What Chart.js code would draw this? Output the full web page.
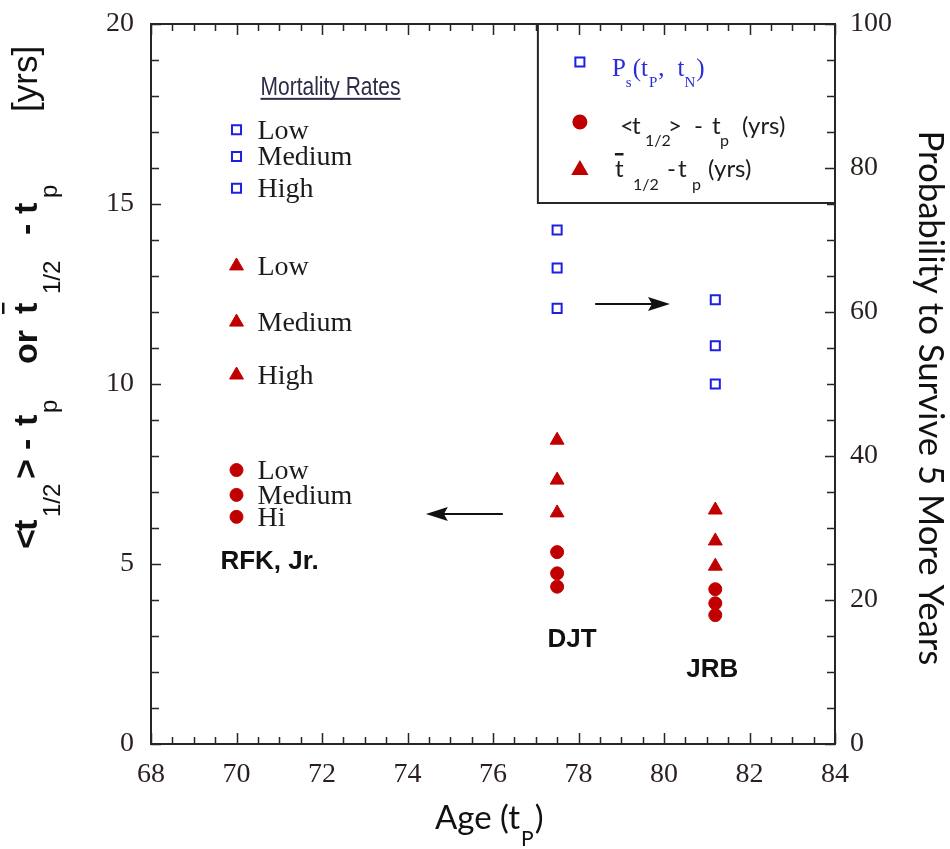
<!DOCTYPE html>
<html>
<head>
<meta charset="utf-8">
<script src="https://cdn.jsdelivr.net/npm/chart.js@4.4.1/dist/chart.umd.min.js"></script>
<style>
  html, body { margin: 0; padding: 0; background: #fff; }
  #wrap { width: 950px; height: 849px; }
</style>
</head>
<body>
<div id="wrap"><canvas id="chart" width="950" height="849"></canvas></div>
<script>
// ages (t_p)
const keyAge = 70;
const people = ["DJT", "JRB"];
const peopleAge = [77.5, 81.2];
const rateNames = ["Low", "Medium", "High"];
const dotNames = ["Low", "Medium", "Hi"];

// probability to survive 5 more years (right axis, %)
const keyPs = [85.3, 81.6, 77.2];
const djtPs = [71.4, 66.1, 60.5];
const jrbPs = [61.7, 55.3, 50.0];

// <t1/2> - tp in years (circles)
const keyMean = [7.61, 6.92, 6.31];
const djtMean = [5.33, 4.74, 4.37];
const jrbMean = [4.30, 3.91, 3.58];

// t1/2 bar - tp in years (triangles)
const keyBar = [13.28, 11.72, 10.25];
const djtBar = [8.44, 7.33, 6.42];
const jrbBar = [6.50, 5.64, 4.94];

// axis ticks
const xTicks = [68, 70, 72, 74, 76, 78, 80, 82, 84];
const yTicks = [0, 5, 10, 15, 20];
const y2Ticks = [0, 20, 40, 60, 80, 100];

const BLUE = "#1f1fe0";
const RED = "#c00000";
const INK = "#1c1c1c";
const TICKCOL = "#2b1f1f";

const pts = (x, ys) => ys.map(v => ({ x: x, y: v }));

const sq = { pointStyle: "rect", pointRadius: 6.4, borderColor: BLUE, backgroundColor: "#fff", borderWidth: 2 };
const dot = { pointStyle: "circle", pointRadius: 6.5, borderColor: RED, backgroundColor: RED, borderWidth: 1 };
const tri = { pointStyle: "triangle", pointRadius: 8, borderColor: RED, backgroundColor: RED, borderWidth: 1 };

// draws text pieces; "at" places a piece at a fixed offset, otherwise it follows the previous one
function pieces(ctx, x, y, parts) {
  let cx = x;
  parts.forEach(p => {
    ctx.font = p.f;
    const px = p.at !== undefined ? x + p.at : cx + (p.gap || 0);
    const w = ctx.measureText(p.t).width;
    ctx.fillText(p.t, px, y + (p.dy || 0));
    if (p.bar) ctx.fillRect(px, y + p.bar, w, 2.5);
    cx = px + w;
  });
}

const decor = {
  id: "decor",
  afterDatasetsDraw(chart) {
    const { ctx, chartArea: a } = chart;
    const { x, y, y2 } = chart.scales;
    ctx.save();

    // frame + inward ticks
    ctx.strokeStyle = "#262626";
    ctx.lineWidth = 2;
    ctx.strokeRect(a.left, a.top, a.right - a.left, a.bottom - a.top);
    ctx.lineWidth = 1.5;
    ctx.beginPath();
    for (let v = xTicks[0]; v <= xTicks[xTicks.length - 1] + 0.01; v += 0.5) {
      const px = Math.round(x.getPixelForValue(v)) + 0.5;
      const len = v % 2 === 0 ? 11 : 7;
      ctx.moveTo(px, a.bottom); ctx.lineTo(px, a.bottom - len);
      ctx.moveTo(px, a.top); ctx.lineTo(px, a.top + len);
    }
    for (let v = 0; v <= 20; v++) {
      const py = Math.round(y.getPixelForValue(v)) + 0.5;
      ctx.moveTo(a.left, py); ctx.lineTo(a.left + (v % 5 === 0 ? 10 : 8), py);
    }
    for (let v = 0; v <= 100; v += 5) {
      const py = Math.round(y2.getPixelForValue(v)) + 0.5;
      ctx.moveTo(a.right, py); ctx.lineTo(a.right - (v % 20 === 0 ? 10 : 8), py);
    }
    ctx.stroke();

    // legend box in the top right corner
    const bl = x.getPixelForValue(77.05);
    const bb = y.getPixelForValue(15.03);
    ctx.lineWidth = 2;
    ctx.beginPath();
    ctx.moveTo(bl, a.top); ctx.lineTo(bl, bb); ctx.lineTo(a.right, bb);
    ctx.stroke();

    const mx = bl + 42, tx = bl + 74;
    ctx.fillStyle = "#fff"; ctx.strokeStyle = BLUE;
    Chart.helpers.drawPoint(ctx, { pointStyle: "rect", radius: 6.4, borderWidth: 2 }, mx, a.top + 38);
    ctx.fillStyle = RED; ctx.strokeStyle = RED;
    Chart.helpers.drawPoint(ctx, { pointStyle: "circle", radius: 6.5, borderWidth: 1 }, mx, a.top + 98);
    Chart.helpers.drawPoint(ctx, { pointStyle: "triangle", radius: 8, borderWidth: 1 }, mx, a.top + 146);

    ctx.textAlign = "left";
    ctx.textBaseline = "alphabetic";
    const SER = '25px "Liberation Serif"', SERs = '15px "Liberation Serif"';
    ctx.fillStyle = "#2b2bd9";
    pieces(ctx, tx, a.top + 52, [
      { t: "P", f: SER, at: 0 }, { t: "s", f: SERs, dy: 11 },
      { t: "(t", f: SER, gap: 1 }, { t: "P", f: SERs, dy: 11, gap: 1 },
      { t: ",", f: SER, gap: 1 }, { t: "t", f: SER, gap: 13 },
      { t: "N", f: SERs, dy: 11 }, { t: ")", f: SER, gap: 1 }
    ]);
    const LA = '24px Lato', LAs = '16px Lato';
    ctx.fillStyle = INK;
    pieces(ctx, tx + 8, a.top + 110, [
      { t: "<", f: LA, at: 0 }, { t: "t", f: LA, at: 12 }, { t: "1/2", f: LAs, at: 25, dy: 12 },
      { t: ">", f: LA, at: 48 }, { t: "-", f: LA, at: 74 }, { t: "t", f: LA, at: 92 },
      { t: "p", f: LAs, at: 100, dy: 12 }, { t: "(yrs)", f: LA, at: 122 }
    ]);
    pieces(ctx, tx + 3, a.top + 153, [
      { t: "t", f: LA, at: 0, bar: -24 }, { t: "1/2", f: LAs, at: 18, dy: 13 },
      { t: "-", f: LA, at: 52 }, { t: "t", f: LA, at: 63 },
      { t: "p", f: LAs, at: 77, dy: 13 }, { t: "(yrs)", f: LA, at: 93 }
    ]);

    // labels next to the key markers at age 70
    ctx.fillStyle = INK;
    ctx.font = '28px "Liberation Serif"';
    [[0, rateNames], [2, dotNames], [4, rateNames]].forEach(([di, names]) => {
      chart.getDatasetMeta(di).data.forEach((el, i) => {
        ctx.fillText(names[i], el.x + 21, el.y + 9);
      });
    });
    const k0 = chart.getDatasetMeta(0).data[0];
    const mt = "Mortality Rates";
    ctx.fillStyle = "#2c2c48";
    ctx.save();
    ctx.translate(k0.x + 24, k0.y - 35);
    ctx.scale(0.84, 1);
    ctx.font = '25px "Liberation Sans"';
    ctx.fillText(mt, 0, 0);
    ctx.fillRect(0, 3, ctx.measureText(mt).width, 2);
    ctx.restore();

    // group names
    ctx.fillStyle = "#111";
    ctx.font = 'bold 26px "Liberation Sans"';
    ctx.textAlign = "center";
    const kd = chart.getDatasetMeta(2).data;
    ctx.fillText("RFK, Jr.", kd[0].x + 33, kd[2].y + 52);
    const md = chart.getDatasetMeta(3).data;
    ctx.fillText(people[0], md[0].x + 15, md[2].y + 60);
    ctx.fillText(people[1], md[3].x - 3, md[5].y + 62);

    // arrows
    ctx.fillStyle = "#111"; ctx.strokeStyle = "#111"; ctx.lineWidth = 2;
    const arrow = (x0, x1, py) => {
      const d = Math.sign(x1 - x0);
      ctx.beginPath(); ctx.moveTo(x0, py); ctx.lineTo(x1 - d * 12, py); ctx.stroke();
      ctx.beginPath();
      ctx.moveTo(x1, py); ctx.lineTo(x1 - d * 22, py - 7); ctx.lineTo(x1 - d * 18, py);
      ctx.lineTo(x1 - d * 22, py + 7); ctx.closePath(); ctx.fill();
    };
    arrow(x.getPixelForValue(76.23), x.getPixelForValue(74.43), y.getPixelForValue(6.39));
    arrow(x.getPixelForValue(78.39), x.getPixelForValue(80.14), y2.getPixelForValue(61.1));

    // axis titles
    ctx.textAlign = "left";
    ctx.fillStyle = "#111";
    ctx.save();
    ctx.translate(37, 548);
    ctx.rotate(-Math.PI / 2);
    const B = 'bold 34px "Liberation Sans"', S = '24px "Liberation Sans"';
    pieces(ctx, 0, 0, [
      { t: "<", f: B, at: -1 }, { t: "t", f: B, at: 17 }, { t: "1/2", f: S, at: 31, dy: 23 },
      { t: ">", f: B, at: 69 }, { t: "-", f: B, at: 98 }, { t: "t", f: B, at: 122 },
      { t: "p", f: S, at: 135, dy: 20 }, { t: "or", f: B, at: 184 },
      { t: "t", f: B, at: 234, bar: -35 }, { t: "1/2", f: S, at: 254, dy: 23 },
      { t: "-", f: B, at: 313 }, { t: "t", f: B, at: 334 }, { t: "p", f: S, at: 350, dy: 20 },
      { t: "[yrs]", f: '35px "Liberation Sans"', at: 436 }
    ]);
    ctx.restore();

    ctx.save();
    ctx.translate(919, 398);
    ctx.rotate(Math.PI / 2);
    ctx.textAlign = "center";
    const rt = "Probability to Survive 5 More Years";
    ctx.font = "100px Lato";
    const fs = 100 * 535 / ctx.measureText(rt).width;
    ctx.font = fs.toFixed(1) + "px Lato";
    ctx.fillText(rt, 0, 0);
    ctx.restore();

    pieces(ctx, 435, 829, [
      { t: "Age (t", f: "33px Lato", at: 0 }, { t: "P", f: "21px Lato", dy: 17, gap: 1 },
      { t: ")", f: "33px Lato", gap: 1 }
    ]);

    ctx.restore();
  }
};

const tickFont = { family: "Liberation Serif", size: 28 };
// keep tick labels from pushing the plot area around
const noPadV = s => { s.paddingTop = 0; s.paddingBottom = 0; };

new Chart(document.getElementById("chart"), {
  type: "scatter",
  data: {
    datasets: [
      { label: "Ps key", data: pts(keyAge, keyPs), yAxisID: "y2", ...sq },
      { label: "Ps", data: [...pts(peopleAge[0], djtPs), ...pts(peopleAge[1], jrbPs)], yAxisID: "y2", ...sq },
      { label: "mean key", data: pts(keyAge, keyMean), yAxisID: "y", ...dot },
      { label: "mean", data: [...pts(peopleAge[0], djtMean), ...pts(peopleAge[1], jrbMean)], yAxisID: "y", ...dot },
      { label: "bar key", data: pts(keyAge, keyBar), yAxisID: "y", ...tri },
      { label: "bar", data: [...pts(peopleAge[0], djtBar), ...pts(peopleAge[1], jrbBar)], yAxisID: "y", ...tri }
    ]
  },
  options: {
    responsive: false,
    animation: false,
    layout: { padding: { top: 24, left: 0, right: 0, bottom: 0 } },
    plugins: { legend: { display: false }, tooltip: { enabled: false } },
    scales: {
      x: {
        type: "linear", min: xTicks[0], max: xTicks[xTicks.length - 1],
        afterFit: s => { s.height = 105; s.paddingLeft = 0; s.paddingRight = 0; },
        afterBuildTicks: s => { s.ticks = xTicks.map(v => ({ value: v })); },
        grid: { display: false, drawTicks: false }, border: { display: false },
        ticks: { font: tickFont, color: TICKCOL, padding: 14, maxRotation: 0 }
      },
      y: {
        position: "left", min: yTicks[0], max: yTicks[yTicks.length - 1],
        afterFit: s => { s.width = 151; noPadV(s); },
        afterBuildTicks: s => { s.ticks = yTicks.map(v => ({ value: v })); },
        grid: { display: false, drawTicks: false }, border: { display: false },
        ticks: { font: tickFont, color: TICKCOL, padding: 17 }
      },
      y2: {
        position: "right", min: y2Ticks[0], max: y2Ticks[y2Ticks.length - 1],
        afterFit: s => { s.width = 115; noPadV(s); },
        afterBuildTicks: s => { s.ticks = y2Ticks.map(v => ({ value: v })); },
        grid: { display: false, drawTicks: false }, border: { display: false },
        ticks: { font: tickFont, color: TICKCOL, padding: 15 }
      }
    }
  },
  plugins: [decor]
});
</script>
</body>
</html>
